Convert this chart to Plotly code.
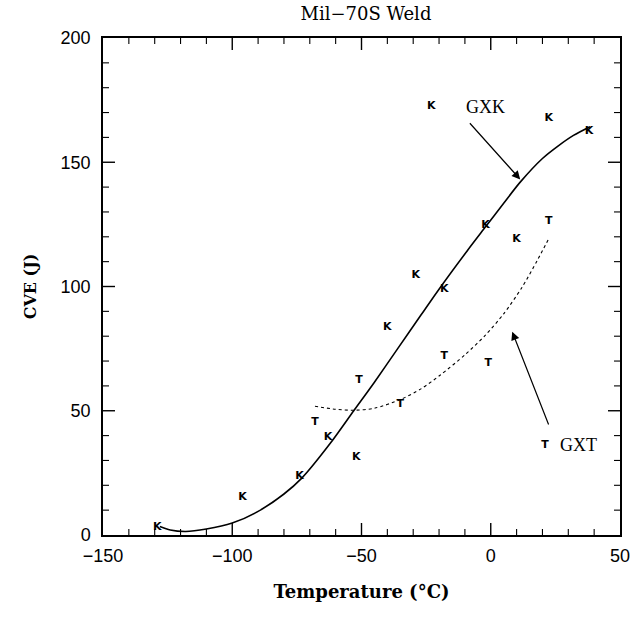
import plotly.graph_objects as go

# K data points (Charpy energy, K specimens)
k_temp = [-129, -96, -74, -63, -52, -40, -29, -23, -18, -2, 10, 22.4, 38]
k_cve = [3.3, 15.2, 23.5, 39.3, 31.3, 83.8, 104.6, 172.4, 98.9, 124.7, 119.0, 167.9, 162.6]

# T data points
t_temp = [-68, -51, -35, -18, -1, 21, 22.4]
t_cve = [45.2, 62.1, 52.7, 72.0, 69.1, 36.2, 126.1]

# GXK fitted curve (solid)
gxk_temp = [-128, -124, -118, -110, -100, -90, -80, -73, -62, -53, -45, -36, -27, -19.6, -9, -2, 5, 11.4, 20, 26, 32, 38.4]
gxk_cve = [3.4, 2.0, 1.4, 2.4, 4.8, 9.5, 16.5, 23.0, 37.0, 50.0, 61.5, 75.0, 88.5, 99.5, 114.5, 124.0, 133.5, 142.0, 151.5, 156.5, 160.8, 164.3]

# GXT fitted curve (dotted)
gxt_temp = [-68, -60, -53, -45, -35, -27, -19.6, -10, -2, 5, 12, 18, 22.4]
gxt_cve = [51.8, 50.6, 50.2, 51.0, 54.5, 58.8, 64.3, 72.5, 80.5, 89.0, 99.5, 110.5, 119.2]

# Axis ticks
x_range = [-150, 50]
y_range = [0, 200]
x_major = [-150, -100, -50, 0, 50]
y_major = [0, 50, 100, 150, 200]
x_minor = [v for v in range(-140, 50, 10) if v not in x_major]
y_minor = [v for v in range(10, 200, 10) if v not in y_major]

fig = go.Figure()
fig.add_trace(go.Scatter(x=gxk_temp, y=gxk_cve, mode="lines",
                         line=dict(color="black", width=1.6, shape="spline", smoothing=0.8),
                         showlegend=False, hoverinfo="skip"))
fig.add_trace(go.Scatter(x=gxt_temp, y=gxt_cve, mode="lines",
                         line=dict(color="black", width=1.1, dash="dot", shape="spline", smoothing=0.8),
                         showlegend=False, hoverinfo="skip"))
fig.add_trace(go.Scatter(x=k_temp, y=k_cve, mode="text", text=["K"] * len(k_temp),
                         textfont=dict(family="DejaVu Sans", size=11, color="#000000", weight="bold"),
                         showlegend=False))
fig.add_trace(go.Scatter(x=t_temp, y=t_cve, mode="text", text=["T"] * len(t_temp),
                         textfont=dict(family="DejaVu Sans", size=11, color="#000000", weight="bold"),
                         showlegend=False))

# inside ticks on all four sides (axis decoration)
def add_ticks(vals, length, width):
    for v in vals:
        if x_range[0] < v < x_range[1]:
            for anchor, sgn in ((y_range[0], 1), (y_range[1], -1)):
                fig.add_shape(type="line", xref="x", yref="y", x0=v, x1=v,
                              ysizemode="pixel", yanchor=anchor, y0=0, y1=sgn * length,
                              line=dict(color="black", width=width))

def add_yticks(vals, length, width):
    for v in vals:
        if y_range[0] < v < y_range[1]:
            for anchor, sgn in ((x_range[0], 1), (x_range[1], -1)):
                fig.add_shape(type="line", xref="x", yref="y", y0=v, y1=v,
                              xsizemode="pixel", xanchor=anchor, x0=0, x1=sgn * length,
                              line=dict(color="black", width=width))

add_ticks(x_major, 12, 1.4)
add_ticks(x_minor, 6, 1.1)
add_yticks(y_major, 12, 1.4)
add_yticks(y_minor, 6, 1.1)

serif = "DejaVu Serif"
fig.add_annotation(x=11.4, y=143.1, ax=-8.6, ay=166.3, axref="x", ayref="y",
                   xref="x", yref="y", showarrow=True, arrowhead=2, arrowsize=1.4,
                   arrowwidth=1.2, arrowcolor="black", text="")
fig.add_annotation(x=-2, y=172.4, text="GXK", showarrow=False,
                   font=dict(family="Liberation Serif", size=18, color="black"))
fig.add_annotation(x=8.3, y=81.8, ax=22.6, ay=43.9, axref="x", ayref="y",
                   xref="x", yref="y", showarrow=True, arrowhead=2, arrowsize=1.4,
                   arrowwidth=1.2, arrowcolor="black", text="")
fig.add_annotation(x=34, y=36.2, text="GXT", showarrow=False,
                   font=dict(family="Liberation Serif", size=18, color="black"))

tickfont = dict(family="Liberation Sans", size=18, color="black")

fig.update_layout(
    width=642, height=618,
    margin=dict(l=103, r=12, t=38, b=83),
    plot_bgcolor="white", paper_bgcolor="white",
    title=dict(text="Mil−70S Weld", x=0.57, xanchor="center", y=0.978, yanchor="middle",
               font=dict(family=serif, size=18, color="black")),
    xaxis=dict(range=x_range, tickmode="array", tickvals=x_major, ticks="",
               showline=True, linecolor="black", linewidth=1.5, mirror=True,
               showgrid=False, zeroline=False, tickfont=tickfont, ticklabelstandoff=4,
               title=dict(text="<b>Temperature (°C)</b>", standoff=20,
                          font=dict(family=serif, size=18, color="black"))),
    yaxis=dict(range=y_range, tickmode="array", tickvals=y_major, ticks="",
               showline=True, linecolor="black", linewidth=1.5, mirror=True,
               showgrid=False, zeroline=False, tickfont=tickfont, ticklabelstandoff=7,
               title=dict(text="<b>CVE (J)</b>", standoff=20,
                          font=dict(family=serif, size=16, color="black"))),
)

fig.write_html("out.html")
